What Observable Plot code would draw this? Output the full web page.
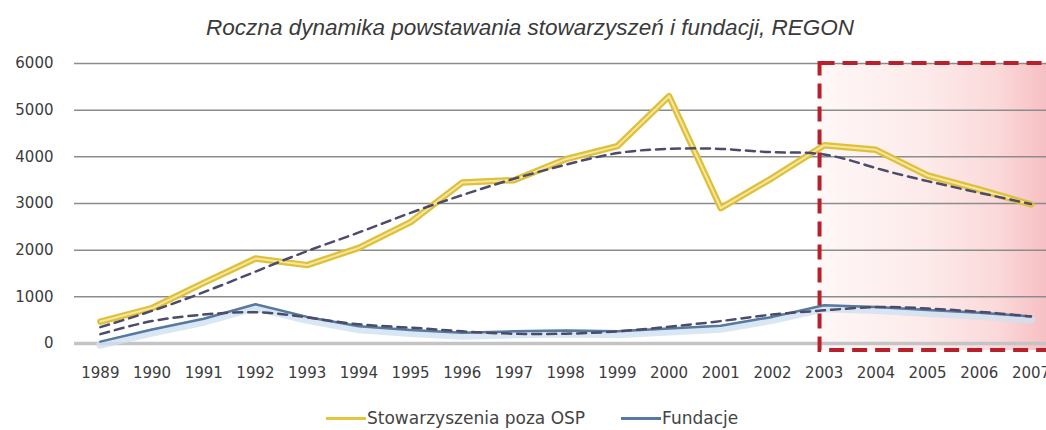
<!DOCTYPE html>
<html>
<head>
<meta charset="utf-8">
<script src="https://cdn.jsdelivr.net/npm/d3@7"></script>
<script src="https://cdn.jsdelivr.net/npm/@observablehq/plot@0.6"></script>
<style>
  html, body { margin: 0; padding: 0; background: #ffffff; overflow: hidden; }
  #wrap { position: relative; width: 1046px; height: 430px; }
  #title { position: absolute; top: 15px; left: 0; width: 1060px; text-align: center;
           font: italic 22.5px "Liberation Sans", Arial, sans-serif; color: #3a3a3a; white-space: nowrap; }
  #legend { position: absolute; top: 408px; left: 326px; display: flex; align-items: center;
            font: 17px "DejaVu Sans", sans-serif; color: #444; white-space: nowrap; }
  .sw { display: inline-block; width: 40px; height: 3px; margin-right: 1px; }
  #chart { position: absolute; top: 0; left: 0; }
</style>
</head>
<body>
<div id="wrap">
  <div id="chart"></div>
  <div id="title">Roczna dynamika powstawania stowarzyszeń i fundacji, REGON</div>
  <div id="legend">
    <span class="sw" style="background:#e3c540"></span><span>Stowarzyszenia poza OSP</span>
    <span class="sw" style="background:#56799f;margin-left:36px"></span><span>Fundacje</span>
  </div>
</div>
<script>
// ---- data ----
const years = [1989, 1990, 1991, 1992, 1993, 1994, 1995, 1996, 1997, 1998,
               1999, 2000, 2001, 2002, 2003, 2004, 2005, 2006, 2007];
const stowarzyszenia = [470, 760, 1300, 1820, 1680, 2050, 2600, 3450, 3500, 3950,
                        4230, 5300, 2900, 3550, 4250, 4150, 3600, 3300, 2980];
const fundacje = [40, 300, 530, 840, 570, 370, 290, 230, 260, 280,
                  260, 320, 380, 570, 820, 780, 720, 660, 580];
const trendStowarzyszenia = [350, 700, 1100, 1540, 1980, 2380, 2800, 3180, 3530, 3830,
                             4080, 4170, 4170, 4100, 4050, 3760, 3480, 3230, 2990];
const trendFundacje = [200, 480, 620, 670, 560, 410, 340, 260, 210, 210,
                       260, 360, 480, 620, 710, 780, 750, 680, 580];
const yTicks = [0, 1000, 2000, 3000, 4000, 5000, 6000];
const highlightFrom = 2003;
const highlightTo = 2007;

const seriesStow = years.map((y, i) => ({year: y, value: stowarzyszenia[i]}));
const seriesFund = years.map((y, i) => ({year: y, value: fundacje[i]}));
const seriesTrendS = years.map((y, i) => ({year: y, value: trendStowarzyszenia[i]}));
const seriesTrendF = years.map((y, i) => ({year: y, value: trendFundacje[i]}));
const box = [{x1: highlightFrom - 0.08, x2: highlightTo + 0.5, y1: -150, y2: 6000}];

const chart = Plot.plot({
  width: 1046,
  height: 430,
  marginLeft: 74,
  marginRight: 0,
  marginTop: 63,
  marginBottom: 80,
  style: {background: "transparent", overflow: "hidden"},
  x: {domain: [years[0] - 0.5, years[years.length - 1] + 0.3], label: null},
  y: {domain: [-150, 6000], label: null},
  marks: [
    Plot.rect(box, {x1: "x1", x2: "x2", y1: "y1", y2: "y2", fill: "url(#pinkgrad)"}),
    Plot.ruleY(yTicks.filter(d => d > 0), {stroke: "#8c8c8c", strokeWidth: 1.5}),
    Plot.ruleY([0], {stroke: "#c4c4c4", strokeWidth: 3.5}),
    Plot.axisX({ticks: years, tickFormat: d => String(d), tickSize: 0, tickPadding: 17,
                fontSize: 15, fill: "#3c3c3c", fontFamily: "DejaVu Sans", label: null}),
    Plot.axisY({ticks: yTicks, tickFormat: d => String(d), tickSize: 0, tickPadding: 21,
                fontSize: 15, fill: "#3c3c3c", fontFamily: "DejaVu Sans", label: null}),
    // Fundacje: soft glow then line
    Plot.line(seriesFund, {x: "year", y: "value", stroke: "#cfe0f1", strokeWidth: 8, dy: 3, strokeOpacity: 0.8}),
    Plot.line(seriesFund, {x: "year", y: "value", stroke: "#56799f", strokeWidth: 2.5}),
    // Stowarzyszenia: thick gold with pale core
    Plot.line(seriesStow, {x: "year", y: "value", stroke: "#dfc03c", strokeWidth: 6.5}),
    Plot.line(seriesStow, {x: "year", y: "value", stroke: "#f5e79e", strokeWidth: 2}),
    // dashed trends
    Plot.line(seriesTrendS, {x: "year", y: "value", stroke: "#4d4b6a", strokeWidth: 2.5,
                             strokeDasharray: "9,6", curve: "natural"}),
    Plot.line(seriesTrendF, {x: "year", y: "value", stroke: "#4d4b6a", strokeWidth: 2.5,
                             strokeDasharray: "9,6", curve: "natural"}),
    // highlight frame
    Plot.rect(box, {x1: "x1", x2: "x2", y1: "y1", y2: "y2", fill: "none", stroke: "#b8202b",
                    strokeWidth: 4, strokeDasharray: "15,8"})
  ]
});

d3.select(chart).insert("defs", ":first-child").html(
  '<linearGradient id="pinkgrad" x1="0" x2="1" y1="0" y2="0">' +
  '<stop offset="0" stop-color="#fff7f7"/>' +
  '<stop offset="0.45" stop-color="#fdeaea"/>' +
  '<stop offset="0.75" stop-color="#fbd9da"/>' +
  '<stop offset="0.92" stop-color="#f7c4c7"/>' +
  '<stop offset="1" stop-color="#f5bcc0"/>' +
  '</linearGradient>');

document.getElementById("chart").appendChild(chart);
</script>
</body>
</html>
